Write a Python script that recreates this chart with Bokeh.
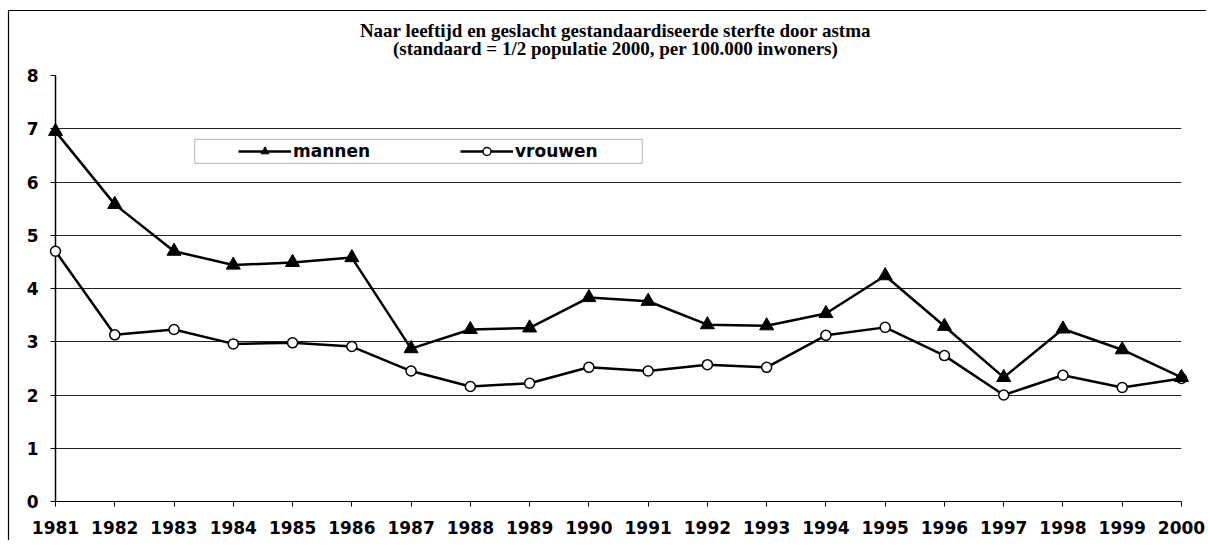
from bokeh.plotting import figure
from bokeh.models import (Range1d, FixedTicker, Legend, LegendItem, BoxAnnotation,
                          ColumnDataSource)
from bokeh.core.properties import value
from bokeh.embed import file_html
from bokeh.resources import INLINE

years = list(range(1981, 2001))
mannen = [6.95, 5.58, 4.70, 4.44, 4.49, 4.58, 2.87, 3.23, 3.26, 3.83,
          3.76, 3.32, 3.30, 3.53, 4.24, 3.29, 2.33, 3.24, 2.85, 2.33]
vrouwen = [4.70, 3.13, 3.23, 2.96, 2.98, 2.91, 2.45, 2.16, 2.22, 2.52,
           2.45, 2.57, 2.52, 3.12, 3.27, 2.74, 2.00, 2.37, 2.14, 2.31]
y_ticks = [0, 1, 2, 3, 4, 5, 6, 7, 8]
series_names = ["mannen", "vrouwen"]
title_lines = ["Naar leeftijd en geslacht gestandaardiseerde sterfte door astma",
               "(standaard = 1/2 populatie 2000, per 100.000 inwoners)"]

src = ColumnDataSource(dict(year=years, mannen=mannen, vrouwen=vrouwen))

W, H = 1199, 531
B_LEFT, B_RIGHT, B_TOP, B_BOTTOM = 48, 25, 66, 39
px_x = (W - B_LEFT - B_RIGHT) / (years[-1] - years[0])
px_y = (H - B_TOP - B_BOTTOM) / (y_ticks[-1] - y_ticks[0])

p = figure(width=W, height=H, output_backend="svg", toolbar_location=None,
           x_range=Range1d(years[0], years[-1]), y_range=Range1d(y_ticks[0], y_ticks[-1]),
           min_border_left=B_LEFT, min_border_right=B_RIGHT, min_border_bottom=B_BOTTOM,
           min_border_top=B_TOP,
           styles={"margin-left": "7px", "margin-top": "9px"})
p.title = None
p.outline_line_color = None
p.background_fill_color = "white"
p.border_fill_color = "white"

# outer border of the chart (left and top edges)
bx0 = years[0] - (B_LEFT - 1) / px_x
bx1 = years[-1] + (B_RIGHT + 2) / px_x
by0 = y_ticks[0] - (B_BOTTOM + 2) / px_y
by1 = y_ticks[-1] + (B_TOP - 1) / px_y
p.line(x=[bx0, bx0, bx1], y=[by0, by1, by1],
       line_color="black", line_width=1.2, level="overlay")

# two-line title, each line centred
x_mid = (years[0] + years[-1]) / 2 - 0.05
p.text(x=[x_mid, x_mid], y=[y_ticks[-1] + 45 / px_y, y_ticks[-1] + 27 / px_y],
       text=title_lines, text_align="center", text_baseline="middle",
       text_font=value("Liberation Serif"), text_font_size="19px",
       text_font_style="bold", text_color="black", level="overlay")

# grid
p.xgrid.visible = False
p.ygrid.ticker = FixedTicker(ticks=y_ticks)
p.ygrid.grid_line_color = "#222222"
p.ygrid.grid_line_width = 1

# axes
for ax in (p.xaxis, p.yaxis):
    ax.axis_line_color = "black"
    ax.major_tick_line_color = "black"
    ax.major_tick_in = 0
    ax.major_tick_out = 5
    ax.minor_tick_line_color = None
    ax.major_label_text_font = "DejaVu Sans"
    ax.major_label_text_font_style = "bold"
    ax.major_label_text_font_size = "17px"
    ax.major_label_text_color = "black"
p.xaxis.ticker = FixedTicker(ticks=years)
p.yaxis.ticker = FixedTicker(ticks=y_ticks)
p.yaxis.axis_line_width = 1.5
p.xaxis.major_label_standoff = 14
p.yaxis.major_label_standoff = 12

# data
lv = p.line("year", "vrouwen", source=src, line_color="black", line_width=2.5, level="overlay")
sv = p.scatter("year", "vrouwen", source=src, marker="circle", size=10,
               fill_color="white", line_color="black", line_width=1.5, level="overlay")
lm = p.line("year", "mannen", source=src, line_color="black", line_width=2.5, level="overlay")
sm = p.scatter("year", "mannen", source=src, marker="triangle", size=14,
               fill_color="black", line_color="black", level="overlay")

# legend box
box = BoxAnnotation(left=1983.35, right=1990.9, bottom=6.35, top=6.80,
                    fill_color="white", fill_alpha=1.0,
                    line_color="black", line_width=1)
p.add_layout(box)

legend = Legend(items=[LegendItem(label=series_names[0], renderers=[lm, sm]),
                       LegendItem(label=series_names[1], renderers=[lv, sv])],
                orientation="horizontal", location=(183, 340),
                glyph_width=53, glyph_height=20, label_standoff=2, label_width=81,
                spacing=86, padding=0, margin=0,
                border_line_color=None, background_fill_alpha=0,
                label_text_font="DejaVu Sans", label_text_font_style="bold",
                label_text_font_size="17px", label_text_color="black")
p.add_layout(legend)

open("out.html", "w").write(file_html(p, INLINE))
